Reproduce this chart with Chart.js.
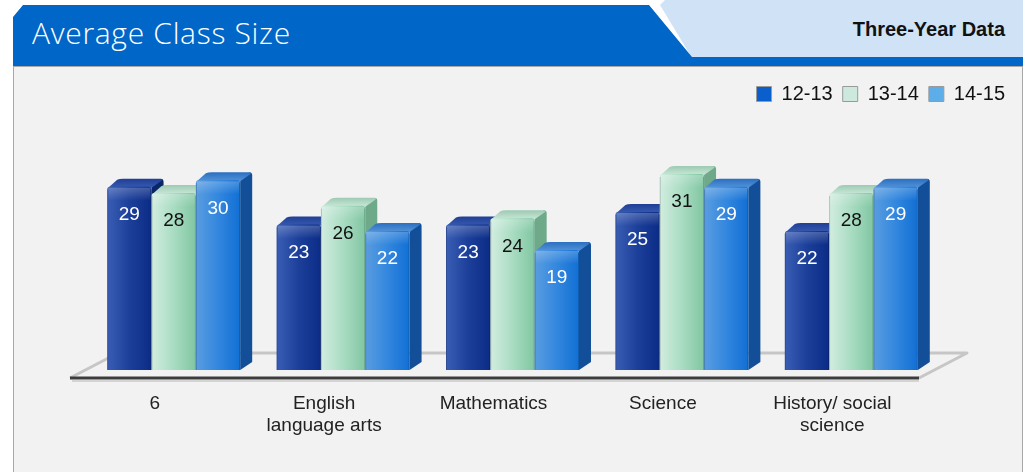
<!DOCTYPE html>
<html>
<head>
<meta charset="utf-8">
<script src="https://cdn.jsdelivr.net/npm/chart.js@4.4.0/dist/chart.umd.min.js"></script>
<style>
  html, body { margin: 0; padding: 0; background: #fff; }
  body { width: 1028px; height: 472px; position: relative; overflow: hidden; font-family: "Liberation Sans", Arial, sans-serif; }
  #tab { position: absolute; left: 660px; top: 0; width: 363px; height: 58px; background: #cfe2f6;
         clip-path: polygon(5px 0, 100% 0, 100% 100%, 32px 100%, 0 5px); }
  #band { position: absolute; left: 13px; top: 5px; width: 1010px; height: 61px; background: #0066c8;
          clip-path: polygon(10px 0, 636px 0, 679px 52px, 100% 52px, 100% 100%, 0 100%, 0 12px); }
  #title { position: absolute; left: 32px; top: 18px; color: #fff; font: 300 30px/30px "Open Sans", sans-serif; letter-spacing: 0.7px; white-space: nowrap; }
  #sub { position: absolute; right: 23px; top: 18px; color: #111; font: bold 20px "Liberation Sans", Arial, sans-serif; }
  #panel { position: absolute; left: 13px; top: 66px; width: 1008px; height: 420px; background: #f2f2f2; border: 1px solid #a8a8a8; }
  #wrap { position: absolute; left: 0; top: 0; width: 1028px; height: 472px; }
</style>
</head>
<body>
<div id="tab"></div>
<div id="band"></div>
<div id="title">Average Class Size</div>
<div id="sub">Three-Year Data</div>
<div id="panel"></div>
<div id="wrap"><canvas id="chart" width="1028" height="472"></canvas></div>

<script>
// ===== Data =====
const categories = ['6', ['English', 'language arts'], 'Mathematics', 'Science', ['History/ social', 'science']];
const years = ['12-13', '13-14', '14-15'];
const size1213 = [29, 23, 23, 25, 22];
const size1314 = [28, 26, 24, 31, 28];
const size1415 = [30, 22, 19, 29, 29];

// ===== Looks =====
const FONT = '"Liberation Sans", Arial, sans-serif';
const DX = 12, DY = 8;   // bar depth
const looks = [
  { legend: '#0a5fcc', front: ['#3a5db4', '#1c3f9a', '#0b2c86'], top: ['#3457ad', '#1f3f95'], side: '#0a2668', text: '#fff' },
  { legend: '#cde8dc', front: ['#d2ede0', '#a9dcc2', '#80c6a2'], top: ['#c4e4d4', '#9ccab2'], side: '#6ea98a', text: '#111' },
  { legend: '#5dade8', front: ['#5a9de0', '#3387de', '#116fd4'], top: ['#4f8fd6', '#2b6fc0'], side: '#124f98', text: '#fff' }
];

Chart.defaults.font.family = FONT;

function drawBar(ctx, l, r, top, bot, look) {
  // right side face
  ctx.fillStyle = look.side;
  ctx.beginPath();
  ctx.moveTo(r, bot);
  ctx.lineTo(r + DX, bot - DY);
  ctx.lineTo(r + DX, top - DY + 3);
  ctx.quadraticCurveTo(r + DX, top - DY, r + DX - 3, top - DY);
  ctx.lineTo(r, top);
  ctx.closePath();
  ctx.fill();

  // top face
  const tg = ctx.createLinearGradient(0, top - DY, 0, top);
  tg.addColorStop(0, look.top[1]);
  tg.addColorStop(1, look.top[0]);
  ctx.fillStyle = tg;
  ctx.beginPath();
  ctx.moveTo(l + 1, top + 1);
  ctx.lineTo(l + DX - 2, top - DY + 1);
  ctx.quadraticCurveTo(l + DX, top - DY, l + DX + 4, top - DY);
  ctx.lineTo(r + DX - 4, top - DY);
  ctx.quadraticCurveTo(r + DX, top - DY, r + DX - 2, top - DY + 2);
  ctx.lineTo(r, top + 1);
  ctx.closePath();
  ctx.fill();

  // front face
  const fg = ctx.createLinearGradient(l, 0, r, 0);
  fg.addColorStop(0, look.front[0]);
  fg.addColorStop(0.5, look.front[1]);
  fg.addColorStop(1, look.front[2]);
  ctx.fillStyle = fg;
  const rad = 3;
  ctx.beginPath();
  ctx.moveTo(l, bot);
  ctx.lineTo(l, top + rad);
  ctx.quadraticCurveTo(l, top, l + rad, top);
  ctx.lineTo(r - rad, top);
  ctx.quadraticCurveTo(r, top, r, top + rad);
  ctx.lineTo(r, bot);
  ctx.closePath();
  ctx.fill();

  // soft top highlight
  const hg = ctx.createLinearGradient(0, top, 0, top + 14);
  hg.addColorStop(0, 'rgba(255,255,255,0.25)');
  hg.addColorStop(1, 'rgba(255,255,255,0)');
  ctx.fillStyle = hg;
  ctx.fillRect(l + 1, top + 1, r - l - 2, 14);

  // thin edge lines
  ctx.strokeStyle = 'rgba(0,0,0,0.18)';
  ctx.lineWidth = 1;
  ctx.beginPath();
  ctx.moveTo(l + 0.5, bot); ctx.lineTo(l + 0.5, top + rad);
  ctx.moveTo(r - 0.5, bot); ctx.lineTo(r - 0.5, top + rad);
  ctx.stroke();
}

// floor plane under the bars
const floorPlugin = {
  id: 'floor',
  beforeDatasetsDraw(chart) {
    const { ctx, chartArea: ca, scales: { y } } = chart;
    const zero = y.getPixelForValue(0);
    const fy = zero + 8, by = zero - 17;
    const fl = ca.left - 19, fr = ca.right - 17, off = 48;
    ctx.save();
    ctx.lineJoin = 'round';
    ctx.strokeStyle = '#c6c6c6';
    ctx.lineWidth = 3;
    ctx.beginPath();
    ctx.moveTo(fl, fy);
    ctx.lineTo(fl + off, by);
    ctx.lineTo(fr + off, by);
    ctx.lineTo(fr, fy);
    ctx.stroke();
    ctx.strokeStyle = 'rgba(0,0,0,0.12)';
    ctx.lineWidth = 2;
    ctx.beginPath();
    ctx.moveTo(fl + 2, fy + 3); ctx.lineTo(fr, fy + 3);
    ctx.stroke();
    ctx.strokeStyle = '#3c3c3c';
    ctx.lineWidth = 3;
    ctx.beginPath();
    ctx.moveTo(fl, fy); ctx.lineTo(fr, fy);
    ctx.stroke();
    ctx.restore();
  }
};

// 3D bars and value labels, drawn from the bar elements
const bars3dPlugin = {
  id: 'bars3d',
  beforeDatasetDraw() { return false; },
  afterDatasetsDraw(chart) {
    const ctx = chart.ctx;
    const metas = chart.data.datasets.map((d, i) => chart.getDatasetMeta(i));
    ctx.save();
    for (let c = 0; c < categories.length; c++) {
      metas.forEach((meta, d) => {
        const el = meta.data[c];
        const { x, y, base, width } = el.getProps(['x', 'y', 'base', 'width'], true);
        drawBar(ctx, x - width / 2, x + width / 2, y, base, looks[d]);
      });
      metas.forEach((meta, d) => {
        const el = meta.data[c];
        const { x, y } = el.getProps(['x', 'y'], true);
        ctx.fillStyle = looks[d].text;
        ctx.font = '19px ' + FONT;
        ctx.textAlign = 'center';
        ctx.textBaseline = 'middle';
        ctx.fillText(String(chart.data.datasets[d].data[c]), x, y + 28);
      });
    }
    ctx.restore();
  }
};

const series = [size1213, size1314, size1415];

new Chart(document.getElementById('chart'), {
  type: 'bar',
  data: {
    labels: categories,
    datasets: years.map((yr, i) => ({
      label: yr,
      data: series[i],
      backgroundColor: looks[i].legend,
      borderColor: '#9a9a9a',
      borderWidth: 1,
      categoryPercentage: 0.785,
      barPercentage: 1
    }))
  },
  options: {
    responsive: false,
    animation: false,
    layout: { padding: { top: 74, right: 13, left: 0, bottom: 0 } },
    plugins: {
      legend: {
        position: 'top',
        align: 'end',
        labels: { boxWidth: 15, boxHeight: 15, padding: 10, color: '#111', font: { size: 20 } }
      },
      tooltip: { enabled: false }
    },
    scales: {
      x: {
        grid: { display: false },
        border: { display: false },
        ticks: { color: '#222', font: { size: 19 }, padding: 14, labelOffset: -19, maxRotation: 0, autoSkip: false },
        afterFit(s) { s.height = 102; }
      },
      y: {
        min: 0, max: 40.5,
        grid: { display: false },
        border: { display: false },
        ticks: { display: false },
        afterFit(s) { s.width = 89; }
      },
      y2: {
        type: 'linear', position: 'right',
        grid: { display: false },
        border: { display: false },
        ticks: { display: false },
        afterFit(s) { s.width = 79; }
      }
    }
  },
  plugins: [floorPlugin, bars3dPlugin]
});
</script>
</body>
</html>
